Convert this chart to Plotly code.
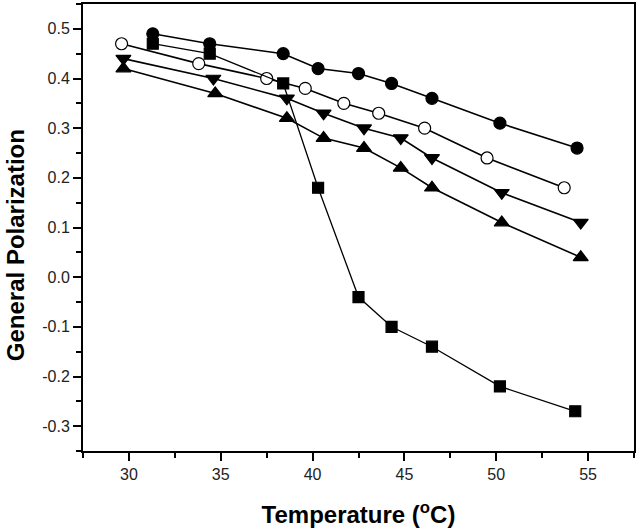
import plotly.graph_objects as go

# Data
temp_circle = [31.3, 34.4, 38.4, 40.3, 42.5, 44.3, 46.5, 50.2, 54.4]
gp_circle = [0.49, 0.47, 0.45, 0.42, 0.41, 0.39, 0.36, 0.31, 0.26]

temp_open = [29.6, 33.8, 37.5, 39.6, 41.7, 43.6, 46.1, 49.5, 53.7]
gp_open = [0.47, 0.43, 0.40, 0.38, 0.35, 0.33, 0.30, 0.24, 0.18]

temp_square = [31.3, 34.4, 38.4, 40.3, 42.5, 44.3, 46.5, 50.2, 54.3]
gp_square = [0.47, 0.45, 0.39, 0.18, -0.04, -0.10, -0.14, -0.22, -0.27]

temp_down = [29.7, 34.6, 38.6, 40.6, 42.8, 44.8, 46.5, 50.3, 54.6]
gp_down = [0.44, 0.40, 0.36, 0.33, 0.30, 0.28, 0.24, 0.17, 0.11]

temp_up = [29.7, 34.7, 38.6, 40.6, 42.8, 44.8, 46.5, 50.3, 54.6]
gp_up = [0.42, 0.37, 0.32, 0.28, 0.26, 0.22, 0.18, 0.11, 0.04]

x_ticks = [30, 35, 40, 45, 50, 55]
x_ticklabels = ["30", "35", "40", "45", "50", "55"]
y_ticks = [-0.3, -0.2, -0.1, 0.0, 0.1, 0.2, 0.3, 0.4, 0.5]
y_ticklabels = ["-0.3", "-0.2", "-0.1", "0.0", "0.1", "0.2", "0.3", "0.4", "0.5"]

x_title = "<b>Temperature (<sup>o</sup>C)</b>"
y_title = "<b>General Polarization</b>"

fig = go.Figure()

def add(x, y, symbol, fill="black", lw=1.6, size=12):
    fig.add_trace(go.Scatter(
        x=x, y=y, mode="lines+markers",
        line=dict(color="black", width=lw),
        marker=dict(symbol=symbol, size=size, color=fill,
                    line=dict(color="black", width=1.2)),
        showlegend=False,
    ))

add(temp_circle, gp_circle, "circle")
add(temp_open, gp_open, "circle", fill="white")
add(temp_square, gp_square, "square", lw=1.3, size=11)
add(temp_down, gp_down, "triangle-down", size=13)
add(temp_up, gp_up, "triangle-up", size=13)

axis_font = dict(family="Liberation Sans, Arial, sans-serif", size=16, color="#222")
title_font = dict(family="Liberation Sans, Arial, sans-serif", size=24, color="black")

W, H = 638, 530
L, R, T, B = 83, 2, 2, 79

fig.update_layout(
    width=W, height=H,
    margin=dict(l=L, r=R, t=T, b=B),
    paper_bgcolor="white", plot_bgcolor="white",
    xaxis=dict(
        range=[27.5, 57.5], tickvals=x_ticks, ticktext=x_ticklabels,
        ticks="outside", ticklen=8, tickwidth=2, tickcolor="black",
        showline=True, linewidth=2, linecolor="black", mirror=True,
        showgrid=False, zeroline=False, tickfont=axis_font,
        minor=dict(dtick=2.5, tick0=27.5, ticks="outside", ticklen=5,
                   tickwidth=2, tickcolor="black", showgrid=False),
        title=dict(text=x_title, font=title_font, standoff=24),
    ),
    yaxis=dict(
        range=[-0.35, 0.55], tickvals=y_ticks, ticktext=y_ticklabels,
        ticks="outside", ticklen=8, tickwidth=2, tickcolor="black",
        showline=True, linewidth=2, linecolor="black", mirror=True,
        showgrid=False, zeroline=False, tickfont=axis_font,
        minor=dict(dtick=0.05, tick0=-0.35, ticks="outside", ticklen=5,
                   tickwidth=2, tickcolor="black", showgrid=False),
    ),
    annotations=[dict(
        text=y_title, textangle=-90, font=title_font, showarrow=False,
        xref="paper", yref="paper",
        x=(16 - L) / (W - L - R), y=1 - (244 - T) / (H - T - B),
        xanchor="center", yanchor="middle",
    )],
)

fig.write_html("out.html", config={"displayModeBar": False},
               post_script="document.body.style.margin='0';")
